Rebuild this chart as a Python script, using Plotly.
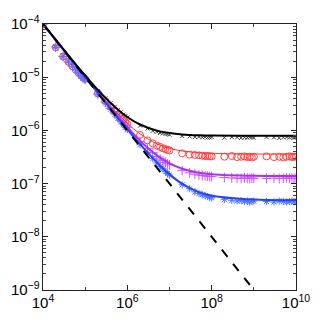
import plotly.graph_objects as go

# marker grid: 1..9 x 10^k
x_pts = [1e4, 2e4, 3e4, 4e4, 5e4, 6e4, 7e4, 8e4, 9e4,
         1e5, 2e5, 3e5, 4e5, 5e5, 6e5, 7e5, 8e5, 9e5,
         1e6, 2e6, 3e6, 4e6, 5e6, 6e6, 7e6, 8e6, 9e6,
         1e7, 2e7, 3e7, 4e7, 5e7, 6e7, 7e7, 8e7, 9e7,
         1e8, 2e8, 3e8, 4e8, 5e8, 6e8, 7e8, 8e8, 9e8,
         1e9, 2e9, 3e9, 4e9, 5e9, 6e9, 7e9, 8e9, 9e9,
         1e10]

black_pts = [1.0e-4, 3.77e-5, 2.54e-5, 2.02e-5, 1.67e-5, 1.46e-5, 1.29e-5, 1.15e-5, 1.05e-5,
             9.7e-6, 5.5e-6, 4.0e-6, 3.24e-6, 2.76e-6, 2.4e-6, 2.18e-6, 1.98e-6, 1.86e-6,
             1.74e-6, 1.23e-6, 1.08e-6, 9.8e-7, 9.4e-7, 9.0e-7, 8.8e-7, 8.6e-7, 8.5e-7,
             8.3e-7, 7.8e-7, 7.7e-7, 7.5e-7, 7.6e-7, 7.4e-7, 7.5e-7, 7.3e-7, 7.4e-7,
             7.5e-7, 7.3e-7, 7.5e-7, 7.4e-7, 7.2e-7, 7.4e-7, 7.3e-7, 7.5e-7, 7.4e-7,
             7.3e-7, 7.5e-7, 7.4e-7, 7.2e-7, 7.4e-7, 7.5e-7, 7.3e-7, 7.4e-7, 7.3e-7,
             7.4e-7]
red_pts = [1.0e-4, 3.65e-5, 2.45e-5, 1.95e-5, 1.6e-5, 1.38e-5, 1.21e-5, 1.08e-5, 9.8e-6,
           9.3e-6, 5.0e-6, 3.6e-6, 2.82e-6, 2.32e-6, 1.99e-6, 1.75e-6, 1.57e-6, 1.43e-6,
           1.32e-6, 8.2e-7, 6.5e-7, 5.7e-7, 5.2e-7, 4.9e-7, 4.6e-7, 4.45e-7, 4.3e-7,
           4.2e-7, 3.7e-7, 3.5e-7, 3.45e-7, 3.4e-7, 3.35e-7, 3.3e-7, 3.3e-7, 3.25e-7,
           3.25e-7, 3.2e-7, 3.3e-7, 3.15e-7, 3.2e-7, 3.25e-7, 3.15e-7, 3.2e-7, 3.1e-7,
           3.2e-7, 3.25e-7, 3.15e-7, 3.2e-7, 3.1e-7, 3.2e-7, 3.25e-7, 3.15e-7, 3.2e-7,
           3.2e-7]
magenta_pts = [1.0e-4, 3.7e-5, 2.46e-5, 1.94e-5, 1.6e-5, 1.39e-5, 1.2e-5, 1.07e-5, 9.7e-6,
               9.1e-6, 4.85e-6, 3.4e-6, 2.6e-6, 2.13e-6, 1.78e-6, 1.55e-6, 1.37e-6, 1.24e-6,
               1.12e-6, 6.2e-7, 4.6e-7, 3.8e-7, 3.2e-7, 2.9e-7, 2.7e-7, 2.5e-7, 2.35e-7,
               2.25e-7, 1.75e-7, 1.6e-7, 1.5e-7, 1.45e-7, 1.42e-7, 1.4e-7, 1.38e-7, 1.36e-7,
               1.35e-7, 1.3e-7, 1.28e-7, 1.27e-7, 1.25e-7, 1.28e-7, 1.26e-7, 1.24e-7, 1.27e-7,
               1.26e-7, 1.25e-7, 1.27e-7, 1.24e-7, 1.26e-7, 1.28e-7, 1.25e-7, 1.26e-7, 1.24e-7,
               1.26e-7]
blue_pts = [1.0e-4, 3.6e-5, 2.42e-5, 1.93e-5, 1.58e-5, 1.37e-5, 1.2e-5, 1.06e-5, 9.6e-6,
            8.9e-6, 4.7e-6, 3.25e-6, 2.5e-6, 2.02e-6, 1.7e-6, 1.45e-6, 1.28e-6, 1.15e-6,
            1.04e-6, 5.4e-7, 3.8e-7, 2.95e-7, 2.45e-7, 2.1e-7, 1.9e-7, 1.7e-7, 1.55e-7,
            1.45e-7, 9.5e-8, 8.0e-8, 7.0e-8, 6.5e-8, 6.2e-8, 5.9e-8, 5.7e-8, 5.5e-8,
            5.4e-8, 5.0e-8, 4.85e-8, 4.7e-8, 4.8e-8, 4.6e-8, 4.7e-8, 4.5e-8, 4.6e-8,
            4.7e-8, 4.6e-8, 4.5e-8, 4.7e-8, 4.6e-8, 4.5e-8, 4.6e-8, 4.7e-8, 4.5e-8,
            4.6e-8]

# smooth model curves
x_fit = [1e4, 2e4, 5e4, 1e5, 2e5, 5e5, 1e6, 2e6, 5e6, 1e7, 2e7, 5e7, 1e8, 1e9, 1e10]
black_fit = [1.008e-4, 5.08e-5, 2.08e-5, 1.079e-5, 5.79e-6, 2.79e-6, 1.79e-6, 1.29e-6,
             9.9e-7, 8.9e-7, 8.4e-7, 8.1e-7, 8.0e-7, 7.9e-7, 7.9e-7]
red_fit = [1.004e-4, 5.04e-5, 2.04e-5, 1.036e-5, 5.36e-6, 2.36e-6, 1.36e-6, 8.6e-7,
           5.6e-7, 4.6e-7, 4.1e-7, 3.8e-7, 3.7e-7, 3.6e-7, 3.6e-7]
magenta_fit = [1.001e-4, 5.01e-5, 2.01e-5, 1.014e-5, 5.14e-6, 2.14e-6, 1.14e-6, 6.4e-7,
               3.4e-7, 2.4e-7, 1.9e-7, 1.6e-7, 1.5e-7, 1.4e-7, 1.39e-7]
blue_fit = [1.0e-4, 5.0e-5, 2.0e-5, 1.005e-5, 5.05e-6, 2.05e-6, 1.05e-6, 5.5e-7,
            2.5e-7, 1.49e-7, 9.9e-8, 6.9e-8, 5.9e-8, 5.0e-8, 4.9e-8]

x_ref = [1e4, 1e10]
y_ref = [1e-4, 1e-10]

fig = go.Figure()

fig.add_trace(go.Scatter(x=x_pts, y=black_pts, mode='markers',
                         marker=dict(symbol='x-thin-open', size=4, color='#444444',
                                     line=dict(width=1, color='#444444'))))
fig.add_trace(go.Scatter(x=x_pts, y=red_pts, mode='markers',
                         marker=dict(symbol='circle-open', size=7, color='#ff4444',
                                     line=dict(width=1))))
fig.add_trace(go.Scatter(x=x_pts, y=magenta_pts, mode='markers',
                         marker=dict(symbol='cross-thin-open', size=7, color='#cc55ff',
                                     line=dict(width=1, color='#cc55ff'))))
fig.add_trace(go.Scatter(x=x_pts, y=blue_pts, mode='markers',
                         marker=dict(symbol='asterisk-open', size=6, color='#5577ff',
                                     line=dict(width=1, color='#5577ff'))))

fig.add_trace(go.Scatter(x=x_fit, y=red_fit, mode='lines', line_shape='spline',
                         line=dict(color='#ff3333', width=1)))
fig.add_trace(go.Scatter(x=x_fit, y=magenta_fit, mode='lines', line_shape='spline',
                         line=dict(color='#b030f0', width=2)))
fig.add_trace(go.Scatter(x=x_fit, y=blue_fit, mode='lines', line_shape='spline',
                         line=dict(color='#2244ff', width=2)))
fig.add_trace(go.Scatter(x=x_fit, y=black_fit, mode='lines', line_shape='spline',
                         line=dict(color='black', width=2)))
fig.add_trace(go.Scatter(x=x_ref, y=y_ref, mode='lines',
                         line=dict(color='black', width=2, dash='dash')))

axis_style = dict(type='log', showgrid=False, zeroline=False, showline=True,
                  linecolor='#222222', linewidth=1, mirror='ticks', ticks='inside',
                  ticklen=5, tickcolor='#222222', exponentformat='power', automargin=False,
                  tickfont=dict(family='Liberation Sans, Arial', size=12, color='black'),
                  minor=dict(ticks='inside', ticklen=3, tickcolor='#444444'))

fig.update_xaxes(range=[4, 10], dtick=2, **axis_style)
fig.update_yaxes(range=[-9, -4], dtick=1, **axis_style)

# page body adds an 8px offset, so the figure is drawn 8px smaller
fig.update_layout(width=319, height=319, showlegend=False,
                  margin=dict(l=35, r=31, t=16, b=37),
                  plot_bgcolor='white', paper_bgcolor='white')

fig.write_html("out.html")
